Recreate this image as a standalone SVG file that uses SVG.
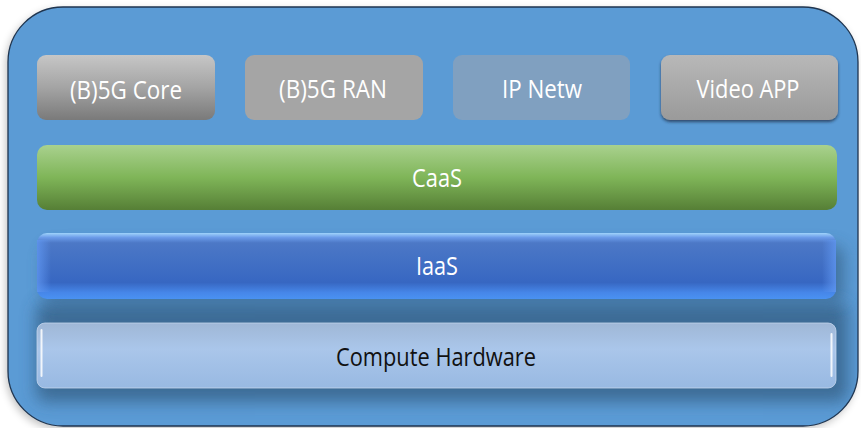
<svg xmlns="http://www.w3.org/2000/svg" width="861" height="428" viewBox="0 0 861 428">
<defs>
<style>
.lbl{font-family:"Open Sans","Noto Sans",sans-serif;font-size:26px;text-anchor:middle;fill:#ffffff}
.dark{fill:#111111}
</style>
<linearGradient id="gCore" x1="0" y1="0" x2="0" y2="1"><stop offset="0" stop-color="#c6c6c6"/><stop offset="0.5" stop-color="#a4a4a4"/><stop offset="1" stop-color="#7a7a7a"/></linearGradient>
<linearGradient id="gVideo" x1="0" y1="0" x2="0" y2="1"><stop offset="0" stop-color="#b8b8b8"/><stop offset="1" stop-color="#9a9a9a"/></linearGradient>
<linearGradient id="gCaas" x1="0" y1="0" x2="0" y2="1"><stop offset="0" stop-color="#a9d18e"/><stop offset="0.5" stop-color="#7fb558"/><stop offset="1" stop-color="#567f36"/></linearGradient>
<linearGradient id="gIaas" x1="0" y1="0" x2="0" y2="1"><stop offset="0" stop-color="#9fd3fb"/><stop offset="0.07" stop-color="#6a9ae8"/><stop offset="0.15" stop-color="#4c78c6"/><stop offset="0.75" stop-color="#3767c2"/><stop offset="0.9" stop-color="#4686e8"/><stop offset="1" stop-color="#4a92f2"/></linearGradient>
<linearGradient id="gHw" x1="0" y1="0" x2="0" y2="1"><stop offset="0" stop-color="#9fb7d6"/><stop offset="0.4" stop-color="#aac6ea"/><stop offset="1" stop-color="#98b9e2"/></linearGradient>
<linearGradient id="gSideL" x1="0" y1="0" x2="1" y2="0"><stop offset="0" stop-color="#5f96f0" stop-opacity="0.8"/><stop offset="1" stop-color="#5f96f0" stop-opacity="0"/></linearGradient>
<linearGradient id="gSideR" x1="1" y1="0" x2="0" y2="0"><stop offset="0" stop-color="#5f96f0" stop-opacity="0.8"/><stop offset="1" stop-color="#5f96f0" stop-opacity="0"/></linearGradient>
<filter id="blur8" x="-20%" y="-50%" width="140%" height="200%"><feGaussianBlur stdDeviation="8"/></filter>
<filter id="blur4" x="-20%" y="-50%" width="140%" height="200%"><feGaussianBlur stdDeviation="4"/></filter>
<filter id="sh" x="-10%" y="-10%" width="120%" height="130%"><feDropShadow dx="0" dy="2" stdDeviation="1.5" flood-color="#1c2c40" flood-opacity="0.7"/></filter>
<clipPath id="outerClip"><rect x="8" y="7" width="850" height="419" rx="55" ry="55"/></clipPath>
</defs>

<g id="frame">
<rect x="6" y="10" width="850" height="419" rx="55" ry="55" fill="#000" opacity="0.25" filter="url(#blur4)"/>
<rect x="8" y="7" width="850" height="419" rx="55" ry="55" fill="#5b9bd5"/>
<g clip-path="url(#outerClip)">
<rect x="36" y="302" width="812" height="100" rx="10" fill="#3b6790" opacity="0.9" filter="url(#blur8)"/>
<rect x="44" y="246" width="800" height="56" rx="10" fill="#3b6790" opacity="0.8" filter="url(#blur8)"/>
</g>
<rect x="8" y="7" width="850" height="419" rx="55" ry="55" fill="none" stroke="#1f3550" stroke-width="1.3"/>
</g>

<g id="core">
<rect x="37" y="55" width="178" height="65" rx="9" fill="url(#gCore)"/>
<text class="lbl" x="126" y="99" textLength="112" lengthAdjust="spacingAndGlyphs">(B)5G Core</text>
</g>
<g id="ran">
<rect x="245" y="55" width="178" height="65" rx="9" fill="#a5a5a5"/>
<text class="lbl" x="333" y="98" textLength="108" lengthAdjust="spacingAndGlyphs">(B)5G RAN</text>
</g>
<g id="ipnetw">
<rect x="453" y="55" width="177" height="65" rx="9" fill="#80a0c0"/>
<text class="lbl" x="542" y="98" textLength="80" lengthAdjust="spacingAndGlyphs">IP Netw</text>
</g>
<g id="video">
<rect x="661" y="55" width="177" height="65" rx="9" fill="url(#gVideo)" filter="url(#sh)"/>
<text class="lbl" x="748" y="98" textLength="103" lengthAdjust="spacingAndGlyphs">Video APP</text>
</g>
<g id="caas">
<rect x="37" y="145" width="800" height="65" rx="10" fill="url(#gCaas)"/>
<text class="lbl" x="437" y="187" textLength="50" lengthAdjust="spacingAndGlyphs">CaaS</text>
</g>
<g id="iaas">
<rect x="37" y="233" width="799" height="66" rx="10" fill="url(#gIaas)"/>
<rect x="37" y="240" width="14" height="52" fill="url(#gSideL)"/>
<rect x="822" y="240" width="14" height="52" fill="url(#gSideR)"/>
<text class="lbl" x="437" y="275" textLength="42" lengthAdjust="spacingAndGlyphs">IaaS</text>
</g>
<g id="hardware">
<rect x="37" y="323" width="799" height="65" rx="8" fill="url(#gHw)" stroke="#c4d6ee" stroke-width="0.8"/>
<path d="M41.5 330 V376" stroke="#ffffff" stroke-width="2" stroke-linecap="round" opacity="0.85"/>
<path d="M831.5 334 V376" stroke="#ffffff" stroke-width="2" stroke-linecap="round" opacity="0.85"/>
<text class="lbl dark" x="436" y="366" textLength="200" lengthAdjust="spacingAndGlyphs">Compute Hardware</text>
</g>
<g id="connectors"/>
</svg>
